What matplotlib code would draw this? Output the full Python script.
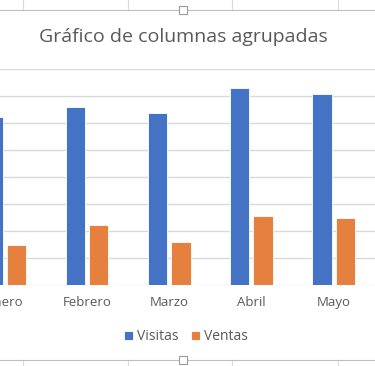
import matplotlib.pyplot as plt
import numpy as np
from matplotlib.lines import Line2D
from matplotlib.patches import Rectangle

# Data (gridline step = 100)
meses = ["Enero", "Febrero", "Marzo", "Abril", "Mayo"]
visitas = [622, 661, 637, 730, 707]
ventas = [149, 224, 160, 256, 249]

azul = "#4472C4"
naranja = "#E5803F"
gris_texto = "#595959"
gris_rejilla = "#D9D9D9"

W, H = 375, 366
fig = plt.figure(figsize=(W / 100, H / 100), dpi=100)
plt.rcParams["font.family"] = ["Open Sans", "DejaVu Sans"]

# Excel sheet chrome around the chart
def fx(px):
    return px / W

def fy(py):
    return 1 - py / H

for x in [23, 128, 232, 338]:
    fig.add_artist(Line2D([fx(x), fx(x)], [fy(0), fy(10)], color="#DADADA", lw=0.8))
    fig.add_artist(Line2D([fx(x), fx(x)], [fy(360), fy(366)], color="#DADADA", lw=0.8))
for y in [10, 360]:
    fig.add_artist(Line2D([0, 1], [fy(y), fy(y)], color="#BFBFBF", lw=0.8))
    fig.add_artist(Rectangle((fx(179), fy(y + 4)), fx(8), 8 / H, facecolor="white",
                             edgecolor="#9A9A9A", lw=0.8, zorder=5))

ax = fig.add_axes([0, fy(285.3), 1, (285.3 - 69.3) / H])
x = np.arange(len(meses))
ancho = 0.235
desp = 0.142
ax.bar(x - desp, visitas, ancho, color=azul, edgecolor="white", linewidth=0.6, zorder=3,
       label="Visitas")
ax.bar(x + desp, ventas, ancho, color=naranja, edgecolor="white", linewidth=0.6, zorder=3,
       label="Ventas")

for v in range(0, 801, 100):
    ax.axhline(v, color=gris_rejilla, lw=1.0, zorder=1)

ax.set_ylim(0, 800)
ax.set_xlim(-0.061, 4.505)
ax.set_yticks([])
ax.set_xticks(x)
ax.set_xticklabels(meses, fontsize=9.5, color=gris_texto)
ax.tick_params(axis="x", length=0, pad=8)
for s in ax.spines.values():
    s.set_visible(False)
ax.patch.set_alpha(0)

fig.text(fx(183), fy(37), "Gráfico de columnas agrupadas", ha="center", va="center",
         fontsize=14, color=gris_texto)

fig.legend(loc="center", bbox_to_anchor=(fx(186), fy(337)), ncol=2, frameon=False,
           fontsize=10, labelcolor=gris_texto, handlelength=0.65, handleheight=0.65,
           handletextpad=0.3, columnspacing=0.9)

fig.savefig("out.png", dpi=100)
